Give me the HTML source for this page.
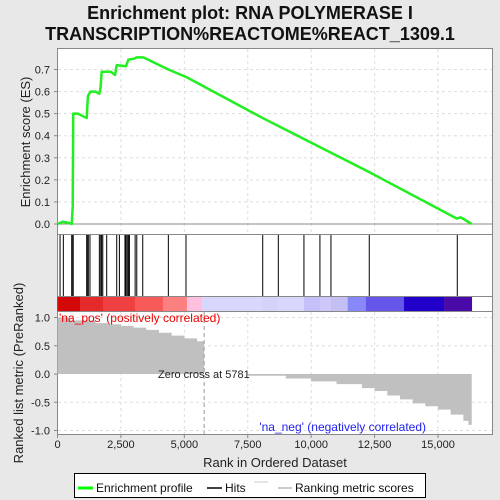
<!DOCTYPE html>
<html><head><meta charset="utf-8">
<style>
body{margin:0;background:#e8e8e8;}
svg{display:block;font-family:"Liberation Sans","DejaVu Sans",sans-serif;}
</style></head>
<body>
<svg id="c" width="500" height="500" viewBox="0 0 500 500">
<text x="250" y="19" text-anchor="middle" font-size="18" font-weight="bold" fill="#111">Enrichment plot: RNA POLYMERASE I</text>
<text x="250" y="40" text-anchor="middle" font-size="18" font-weight="bold" fill="#111">TRANSCRIPTION%REACTOME%REACT_1309.1</text>
<rect x="57.5" y="48.5" width="435" height="386" fill="#fff" stroke="#888"/>
<g id="grid"></g>
<g id="es"></g>
<g id="hits"></g>
<g id="cbar"></g>
<g id="metric"></g>
<line x1="57.5" y1="234.5" x2="492.5" y2="234.5" stroke="#888"/>
<line x1="57.5" y1="296.5" x2="492.5" y2="296.5" stroke="#888"/>
<line x1="57.5" y1="311.5" x2="492.5" y2="311.5" stroke="#888"/>
<text x="59" y="322" font-size="12" fill="#e00">'na_pos' (positively correlated)</text>
<text x="426" y="431" text-anchor="end" font-size="12" fill="#22e">'na_neg' (negatively correlated)</text>
<text x="30" y="142" transform="rotate(-90 30 142)" text-anchor="middle" font-size="13" fill="#222">Enrichment score (ES)</text>
<text x="23" y="373" transform="rotate(-90 23 373)" text-anchor="middle" font-size="13" fill="#222">Ranked list metric (PreRanked)</text>
<text x="275" y="467" text-anchor="middle" font-size="13" fill="#222">Rank in Ordered Dataset</text>
<g>
<rect x="74.5" y="473.5" width="351" height="24" fill="#fff" stroke="#000"/>
<line x1="78" y1="488" x2="93" y2="488" stroke="#0f0" stroke-width="3"/>
<text x="96" y="492" font-size="12" fill="#111">Enrichment profile</text>
<line x1="207" y1="488" x2="222" y2="488" stroke="#000" stroke-width="1.5"/>
<text x="225" y="492" font-size="12" fill="#111">Hits</text>
<line x1="254" y1="482" x2="268" y2="482" stroke="#ccc"/>
<line x1="278" y1="488" x2="292" y2="488" stroke="#bbb" stroke-width="1.5"/>
<text x="295" y="492" font-size="12" fill="#111">Ranking metric scores</text>
</g>
</svg>
<script>
const esRanks=[0,200,450,560,600,620,800,1150,1200,1300,1500,1650,1700,1740,2100,2270,2335,2700,2795,3000,3125,3384,4370,5093,8090,12290,15736,15900,16330];
const esValues=[0,0.01,0.005,0.0,0.08,0.5,0.5,0.48,0.58,0.6,0.6,0.59,0.62,0.69,0.69,0.675,0.72,0.715,0.745,0.748,0.755,0.755,0.7,0.665,0.48,0.235,0.025,0.03,0.0];
const hitRanks=[100,230,560,600,620,1150,1175,1215,1280,1650,1705,1740,1785,1940,2335,2440,2660,2700,2750,2795,2835,3060,3125,3360,4370,5065,8090,8705,9715,10345,10780,12290,15760];
const metricRanks=[0,500,1500,2000,2500,3000,3500,4000,4500,5000,5500,5781,7500,9000,10000,11000,12000,12500,13000,13500,14000,14500,15000,15500,16000,16200,16330];
const metricValues=[1.0,0.95,0.9,0.88,0.85,0.82,0.78,0.73,0.68,0.63,0.58,0.0,-0.03,-0.08,-0.13,-0.18,-0.25,-0.3,-0.38,-0.45,-0.52,-0.57,-0.63,-0.72,-0.83,-0.9,-1.0];
const xTicks=[0,2500,5000,7500,10000,12500,15000];
const xTickLabels=["0","2,500","5,000","7,500","10,000","12,500","15,000"];
const esTicks=[0,0.1,0.2,0.3,0.4,0.5,0.6,0.7];
const metricTicks=[1.0,0.5,0.0,-0.5,-1.0];
const metricTickLabels=["1.0","0.5","0.0","-0.5","-1.0"];
const cbarStops=[0,887,1794,3055,4159,5105,5700,8062,8692,9718,10348,10782,11440,12160,13660,15240];
const cbarColors=["#d40808","#e42a2a","#ee4040","#f85a5a","#ff8080","#ffc0e0","#d8d8fc","#d4d4fa","#d8d8fc","#c4c0f8","#ccc8fa","#c4c0f6","#8888f8","#6655ea","#2200cc","#4a0aa8"];
const zeroCross=5781, N=16330;

const NS="http://www.w3.org/2000/svg";
const X=r=>57.5+r*0.025367;
const YE=v=>224-v*220.7;
const YM=v=>374-v*56.5;
function mk(t,a,p){const e=document.createElementNS(NS,t);for(const k in a)e.setAttribute(k,a[k]);p.appendChild(e);return e;}
const svg=document.getElementById('c');
const grid=document.getElementById('grid');
xTicks.forEach((t,i)=>{
  if(i>0){
  const g1=mk('line',{x1:X(t),x2:X(t),y1:49,y2:234,stroke:'#ddd','stroke-dasharray':'3,3'},grid);
  
  
  mk('line',{x1:X(t),x2:X(t),y1:312,y2:434,stroke:'#ddd','stroke-dasharray':'3,3'},grid);}
  const tl=mk('text',{x:X(t),y:448,'text-anchor':'middle','font-size':11,fill:'#222'},svg);
  tl.textContent=xTickLabels[i];
  
  
  mk('line',{x1:X(t),x2:X(t),y1:435,y2:438,stroke:'#888'},svg);
});
esTicks.forEach(v=>{
  if(v>0) mk('line',{x1:58,x2:492,y1:YE(v),y2:YE(v),stroke:'#ddd','stroke-dasharray':'3,3'},grid);
  const t=mk('text',{x:50,y:YE(v)+4,'text-anchor':'end','font-size':11,fill:'#222'},svg);
  t.textContent=v.toFixed(1);
  
  
  mk('line',{x1:54,x2:57.5,y1:YE(v),y2:YE(v),stroke:'#888'},svg);
});
mk('line',{x1:58,x2:492,y1:YE(0),y2:YE(0),stroke:'#888'},grid);
metricTicks.forEach((v,i)=>{
  if(v!==0) mk('line',{x1:58,x2:492,y1:YM(v),y2:YM(v),stroke:'#ddd','stroke-dasharray':'3,3'},grid);
  const t=mk('text',{x:50,y:YM(v)+4,'text-anchor':'end','font-size':11,fill:'#222'},svg);
  t.textContent=metricTickLabels[i];
  
  
  mk('line',{x1:54,x2:57.5,y1:YM(v),y2:YM(v),stroke:'#888'},svg);
});
const mg=document.getElementById('metric');
let d='M'+X(0)+','+YM(0);
for(let i=0;i<metricRanks.length;i++){
  const next=i<metricRanks.length-1?metricRanks[i+1]:N;
  d+=' L'+X(metricRanks[i])+','+YM(metricValues[i])+' L'+X(next)+','+YM(metricValues[i]);
}
d+=' L'+X(N)+','+YM(0)+' Z';
const area=mk('path',{d:d,fill:'#c0c0c0'},mg);


const zl=mk('line',{x1:X(zeroCross),x2:X(zeroCross),y1:312,y2:434,stroke:'#999','stroke-dasharray':'4,3'},mg);


const zt=mk('text',{x:158,y:378,'font-size':11,fill:'#222'},mg);
zt.textContent='Zero cross at '+zeroCross;


const cb=document.getElementById('cbar');
cbarStops.forEach((s,i)=>{
  const e=i<cbarStops.length-1?cbarStops[i+1]:N;
  const r=mk('rect',{x:X(s),y:297,width:X(e)-X(s)+0.3,height:14,fill:cbarColors[i]},cb);
  
  
});
const hg=document.getElementById('hits');
hitRanks.forEach(r=>{
  const l=mk('line',{x1:X(r),x2:X(r),y1:235,y2:296,stroke:'#000','stroke-width':1},hg);
  
  
});
let p='';
esRanks.forEach((r,i)=>{p+=(i?' L':'M')+X(r)+','+YE(esValues[i]);});
const es=mk('path',{d:p,fill:'none',stroke:'#22ee22','stroke-width':2.5,'stroke-linejoin':'round'},document.getElementById('es'));


</script>
</body></html>
